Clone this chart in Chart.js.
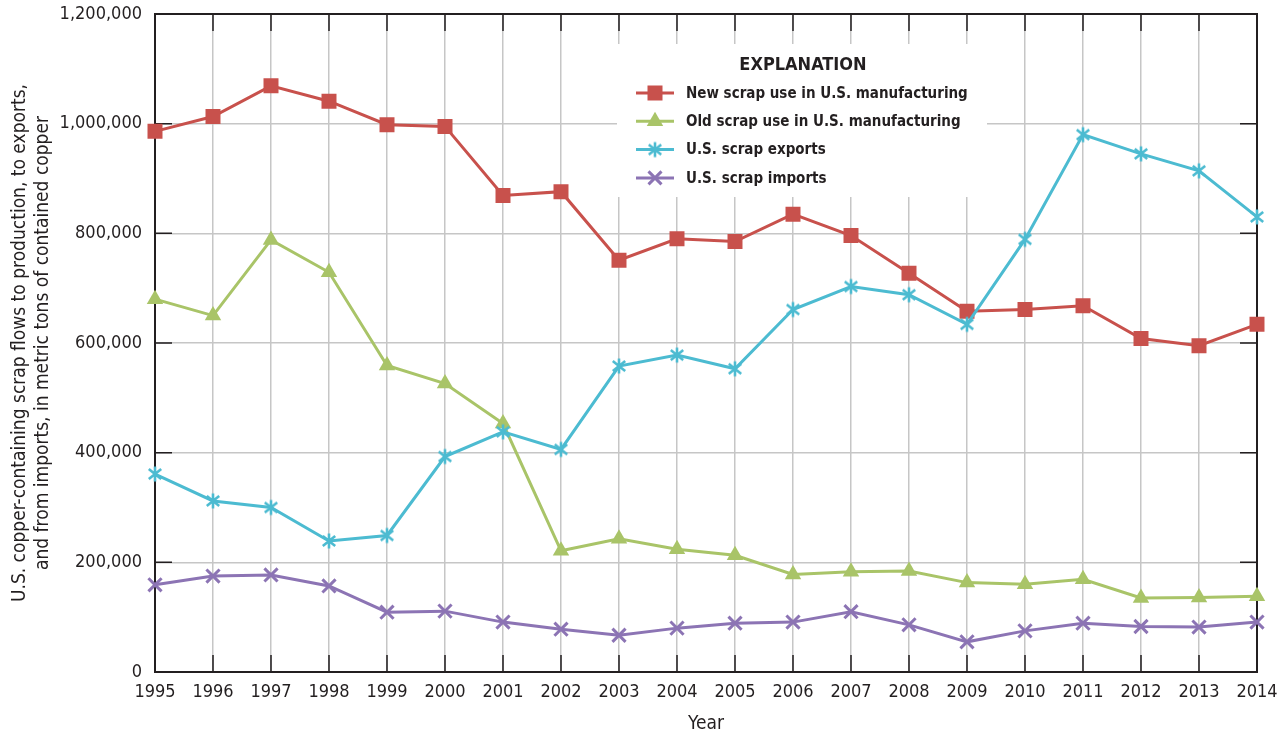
<!DOCTYPE html>
<html>
<head>
<meta charset="utf-8">
<script src="https://cdn.jsdelivr.net/npm/chart.js@4/dist/chart.umd.min.js"></script>
<style>
  html, body { margin: 0; padding: 0; background: #fff; }
  canvas { display: block; }
</style>
</head>
<body>
<canvas id="scrapChart" width="1283" height="736"></canvas>
<script>
const years = ['1995', '1996', '1997', '1998', '1999', '2000', '2001', '2002', '2003', '2004',
               '2005', '2006', '2007', '2008', '2009', '2010', '2011', '2012', '2013', '2014'];

const newScrap = [986000, 1013000, 1069000, 1041000, 998000, 995000, 869000, 876000, 751000, 790000,
                  785000, 835000, 796000, 727000, 658000, 661000, 668000, 608000, 595000, 634000];
const oldScrap = [680000, 650000, 788000, 729000, 559000, 526000, 453000, 221000, 243000, 224000,
                  213000, 178000, 183000, 184000, 163000, 160000, 169000, 135000, 136000, 138000];
const scrapExports = [361000, 312000, 300000, 239000, 249000, 393000, 438000, 406000, 558000, 578000,
                      553000, 661000, 703000, 688000, 634000, 789000, 980000, 945000, 914000, 830000];
const scrapImports = [159000, 175000, 177000, 157000, 109000, 111000, 91000, 78000, 67000, 80000,
                      89000, 91000, 110000, 86000, 55000, 75000, 89000, 83000, 82000, 91000];

const yTicks = [0, 200000, 400000, 600000, 800000, 1000000, 1200000];

const seriesNames = [
  'New scrap use in U.S. manufacturing',
  'Old scrap use in U.S. manufacturing',
  'U.S. scrap exports',
  'U.S. scrap imports'
];

const RED = '#c8514c';
const GREEN = '#a9c468';
const CYAN = '#4cbbd1';
const PURPLE = '#8c74b4';
const INK = '#231f20';
const GRID = '#c6c6c6';
const FONT = '"Liberation Sans Narrow", "DejaVu Sans Condensed", "Arial Narrow", sans-serif';

// six-armed asterisk used for the exports series
function asterisk(color) {
  const c = document.createElement('canvas');
  c.width = 18; c.height = 18;
  const g = c.getContext('2d');
  g.strokeStyle = color;
  g.lineWidth = 2.6;
  g.lineCap = 'butt';
  g.beginPath();
  g.moveTo(9, 1.5); g.lineTo(9, 16.5);
  g.moveTo(2.8, 4); g.lineTo(15.2, 14);
  g.moveTo(15.2, 4); g.lineTo(2.8, 14);
  g.stroke();
  return c;
}
const exportsMarker = asterisk(CYAN);

// legend drawing helpers
function legendMarker(ctx, i, x, y) {
  ctx.save();
  if (i === 0) {
    ctx.fillStyle = RED;
    ctx.fillRect(x - 7.5, y - 7.5, 15, 15);
  } else if (i === 1) {
    const r = 9.5;
    ctx.fillStyle = GREEN;
    ctx.beginPath();
    ctx.moveTo(x, y - r);
    ctx.lineTo(x + r * 0.866, y + r * 0.5);
    ctx.lineTo(x - r * 0.866, y + r * 0.5);
    ctx.closePath();
    ctx.fill();
  } else if (i === 2) {
    ctx.drawImage(exportsMarker, x - 9, y - 9);
  } else {
    ctx.strokeStyle = PURPLE;
    ctx.lineWidth = 3;
    ctx.beginPath();
    ctx.moveTo(x - 6.5, y - 6.5); ctx.lineTo(x + 6.5, y + 6.5);
    ctx.moveTo(x + 6.5, y - 6.5); ctx.lineTo(x - 6.5, y + 6.5);
    ctx.stroke();
  }
  ctx.restore();
}

const frameAndLegend = {
  id: 'frameAndLegend',
  beforeDatasetsDraw(chart) {
    const {ctx, chartArea: a, scales: {x, y}} = chart;
    ctx.save();
    // blank out the grid behind the explanation box
    ctx.fillStyle = '#fff';
    ctx.fillRect(617, 44, 370, 153);

    // inward tick marks on all four sides
    const len = 17;
    ctx.strokeStyle = INK;
    ctx.lineWidth = 1.5;
    ctx.beginPath();
    x.ticks.forEach((t, i) => {
      const px = x.getPixelForTick(i);
      ctx.moveTo(px, a.bottom); ctx.lineTo(px, a.bottom - len);
      ctx.moveTo(px, a.top); ctx.lineTo(px, a.top + len);
    });
    y.ticks.forEach((t, i) => {
      const py = y.getPixelForTick(i);
      ctx.moveTo(a.left, py); ctx.lineTo(a.left + len, py);
      ctx.moveTo(a.right, py); ctx.lineTo(a.right - len, py);
    });
    ctx.stroke();

    ctx.lineWidth = 2;
    ctx.strokeRect(a.left, a.top, a.right - a.left, a.bottom - a.top);
    ctx.restore();
  },
  afterDatasetsDraw(chart) {
    const {ctx} = chart;
    const colors = [RED, GREEN, CYAN, PURPLE];
    ctx.save();
    ctx.fillStyle = INK;
    ctx.textBaseline = 'middle';
    ctx.textAlign = 'center';
    ctx.font = 'bold 18px ' + FONT;
    ctx.fillText('EXPLANATION', 803, 65);

    ctx.font = 'bold 15px ' + FONT;
    ctx.textAlign = 'left';
    seriesNames.forEach((name, i) => {
      const ly = 93 + i * 28.3;
      ctx.strokeStyle = colors[i];
      ctx.lineWidth = 3;
      ctx.beginPath();
      ctx.moveTo(636, ly); ctx.lineTo(674, ly);
      ctx.stroke();
      legendMarker(ctx, i, 655, ly);
      ctx.fillStyle = INK;
      ctx.fillText(name, 686, ly + 1);
    });
    ctx.restore();
  }
};

new Chart(document.getElementById('scrapChart'), {
  type: 'line',
  data: {
    labels: years,
    datasets: [
      {
        label: seriesNames[0], data: newScrap, order: 2,
        borderColor: RED, backgroundColor: RED, borderWidth: 3,
        pointStyle: 'rect', pointRadius: 10.6, pointBorderWidth: 0,
        pointBackgroundColor: RED
      },
      {
        label: seriesNames[1], data: oldScrap, order: 3,
        borderColor: GREEN, backgroundColor: GREEN, borderWidth: 3,
        pointStyle: 'triangle', pointRadius: 9.5, pointBorderWidth: 0,
        pointBackgroundColor: GREEN
      },
      {
        label: seriesNames[2], data: scrapExports, order: 0,
        borderColor: CYAN, backgroundColor: CYAN, borderWidth: 3,
        pointStyle: exportsMarker, pointRadius: 9
      },
      {
        label: seriesNames[3], data: scrapImports, order: 1,
        borderColor: PURPLE, backgroundColor: PURPLE, borderWidth: 3,
        pointStyle: 'crossRot', pointRadius: 9.3, pointBorderWidth: 3,
        pointBorderColor: PURPLE
      }
    ]
  },
  options: {
    responsive: false,
    animation: false,
    devicePixelRatio: 1,
    layout: { padding: { left: 0, right: 26, top: 14, bottom: 0 } },
    plugins: { legend: { display: false }, tooltip: { enabled: false } },
    elements: { line: { tension: 0 } },
    scales: {
      x: {
        offset: false,
        grid: { color: GRID, lineWidth: 1.5, drawTicks: false },
        border: { display: false },
        ticks: { color: INK, font: { family: FONT, size: 18 }, padding: 10, maxRotation: 0, autoSkip: false },
        title: { display: true, text: 'Year', color: INK, font: { family: FONT, size: 19 }, padding: { top: 0, bottom: 1 } },
        afterFit(scale) {
          scale.height = 64;
          scale.paddingLeft = 0;
          scale.paddingRight = 0;
        }
      },
      y: {
        min: yTicks[0],
        max: yTicks[yTicks.length - 1],
        afterBuildTicks(scale) { scale.ticks = yTicks.map(v => ({ value: v })); },
        grid: { color: GRID, lineWidth: 1.5, drawTicks: false },
        border: { display: false },
        ticks: {
          color: INK, font: { family: FONT, size: 18 }, padding: 13,
          callback: v => v.toLocaleString('en-US')
        },
        title: {
          display: true,
          text: ['U.S. copper-containing scrap flows to production, to exports,',
                 'and from imports, in metric tons of contained copper'],
          color: INK, font: { family: FONT, size: 19 }, padding: { top: 9, bottom: 0 }
        },
        afterFit(scale) {
          scale.width = 155;
          scale.paddingTop = 0;
          scale.paddingBottom = 0;
        }
      }
    }
  },
  plugins: [frameAndLegend]
});
</script>
</body>
</html>
